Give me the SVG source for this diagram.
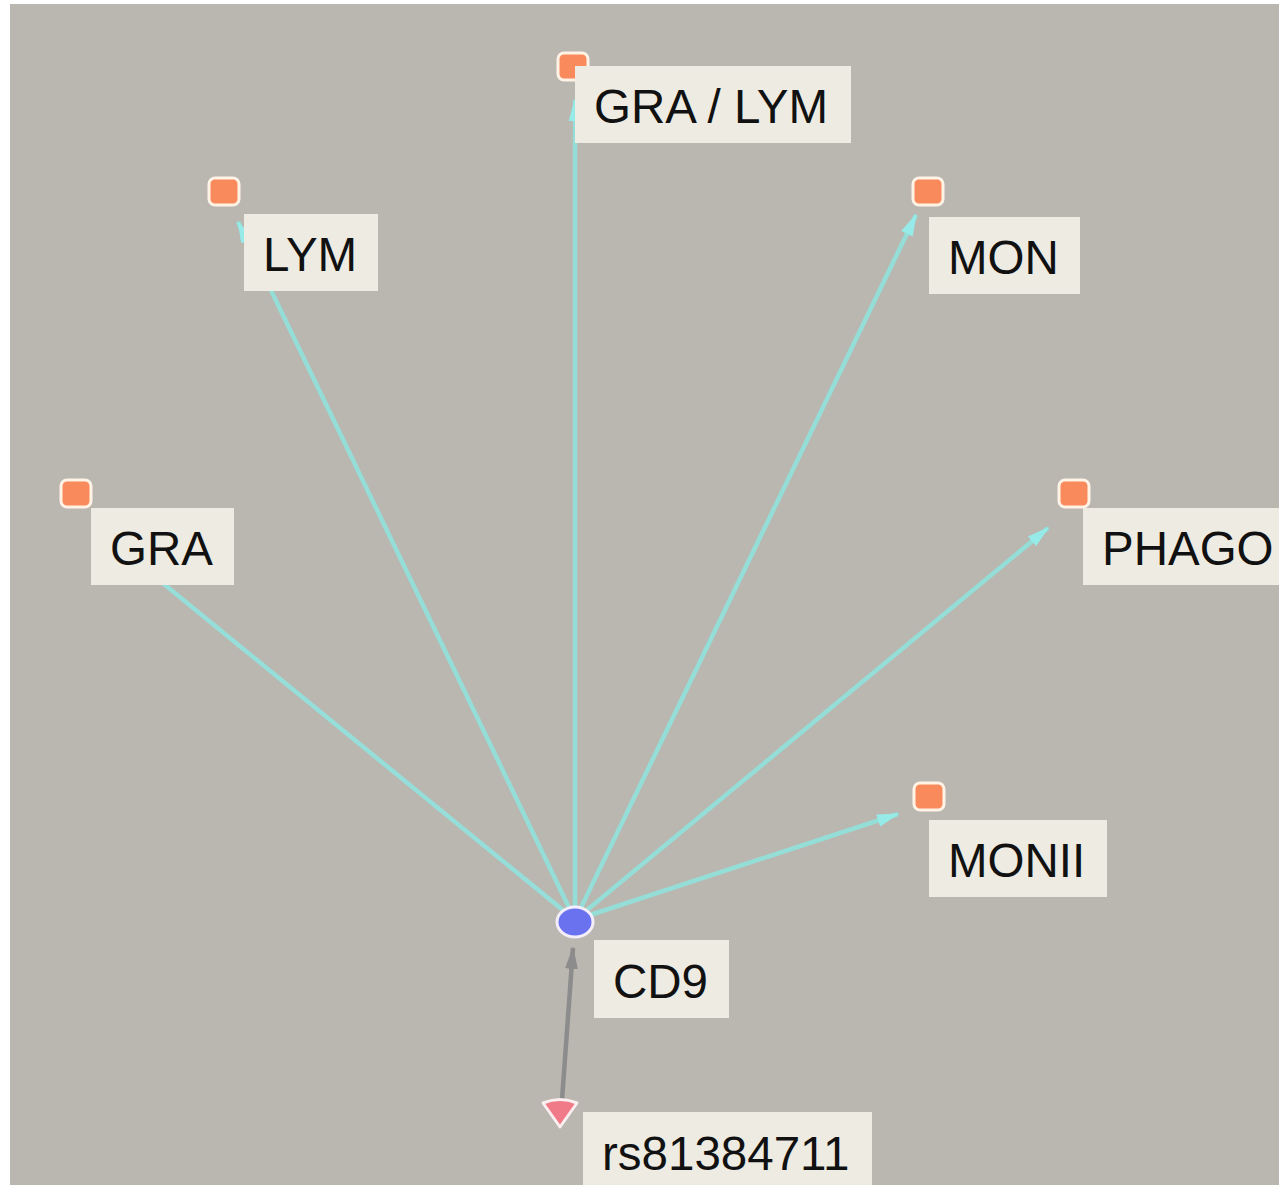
<svg xmlns="http://www.w3.org/2000/svg" width="1279" height="1185" viewBox="0 0 1279 1185">
<defs>
<style>
.lbl rect{fill:#eeebe2}
.lbl text{font-family:"Liberation Sans",Arial,sans-serif;font-size:47.5px;fill:#111}
.sq{fill:#f98a5c;stroke:#fff3e6;stroke-width:3}
.e{stroke:#92e2dc;stroke-width:4.5;fill:none;opacity:0.92}
</style>
<marker id="ah" viewBox="0 0 14 10" refX="13" refY="5" markerWidth="5" markerHeight="3.6" orient="auto" markerUnits="strokeWidth">
<path d="M0,1 L14,5 L0,9 z" fill="#93f0ee"/>
</marker>
<marker id="ag" viewBox="0 0 14 10" refX="13" refY="5" markerWidth="5" markerHeight="3.6" orient="auto" markerUnits="strokeWidth">
<path d="M0,1 L14,5 L0,9 z" fill="#8c8c8c"/>
</marker>
</defs>
<rect x="0" y="0" width="1279" height="1185" fill="#ffffff"/>
<rect x="10" y="4" width="1269" height="1181" fill="#bab6b0"/>
<g id="connectors">
<line class="e" x1="575" y1="920" x2="575" y2="100" marker-end="url(#ah)"/>
<line class="e" x1="575" y1="920" x2="238" y2="222" marker-end="url(#ah)"/>
<line class="e" x1="575" y1="920" x2="916" y2="215" marker-end="url(#ah)"/>
<line class="e" x1="575" y1="920" x2="110" y2="540"/>
<line class="e" x1="575" y1="920" x2="1048" y2="528" marker-end="url(#ah)"/>
<line class="e" x1="575" y1="920" x2="898" y2="814" marker-end="url(#ah)"/>
<line x1="562" y1="1100" x2="573" y2="948" stroke="#8c8c8c" stroke-width="4.5" marker-end="url(#ag)"/>
</g>
<g id="n-gralym"><rect class="sq" x="558" y="53" width="30" height="27" rx="6"/><g class="lbl"><rect x="575" y="66" width="276" height="77"/><text x="594" y="123">GRA / LYM</text></g></g>
<g id="n-lym"><rect class="sq" x="209" y="178" width="30" height="27" rx="6"/><g class="lbl"><rect x="244" y="214" width="134" height="77"/><text x="263" y="271">LYM</text></g></g>
<g id="n-mon"><rect class="sq" x="913" y="178" width="30" height="27" rx="6"/><g class="lbl"><rect x="929" y="217" width="151" height="77"/><text x="948" y="274">MON</text></g></g>
<g id="n-gra"><rect class="sq" x="61" y="480" width="30" height="27" rx="6"/><g class="lbl"><rect x="91" y="508" width="143" height="77"/><text x="110" y="565">GRA</text></g></g>
<g id="n-phago"><rect class="sq" x="1059" y="480" width="30" height="27" rx="6"/><g class="lbl"><rect x="1083" y="508" width="196" height="77"/><text x="1102" y="565">PHAGO</text></g></g>
<g id="n-monii"><rect class="sq" x="914" y="783" width="30" height="27" rx="6"/><g class="lbl"><rect x="929" y="820" width="178" height="77"/><text x="948" y="877">MONII</text></g></g>
<g id="n-cd9"><ellipse cx="575" cy="922" rx="18" ry="15" fill="#6a72f0" stroke="#f3eefa" stroke-width="3"/><g class="lbl"><rect x="594" y="940" width="135" height="78"/><text x="613" y="998">CD9</text></g></g>
<g id="n-rs"><path d="M543,1103 Q560,1096 577,1103 L560,1127 Z" fill="#f07a88" stroke="#fbeef0" stroke-width="3" stroke-linejoin="round"/><g class="lbl"><rect x="583" y="1112" width="289" height="73"/><text x="602" y="1170">rs81384711</text></g></g>
</svg>
